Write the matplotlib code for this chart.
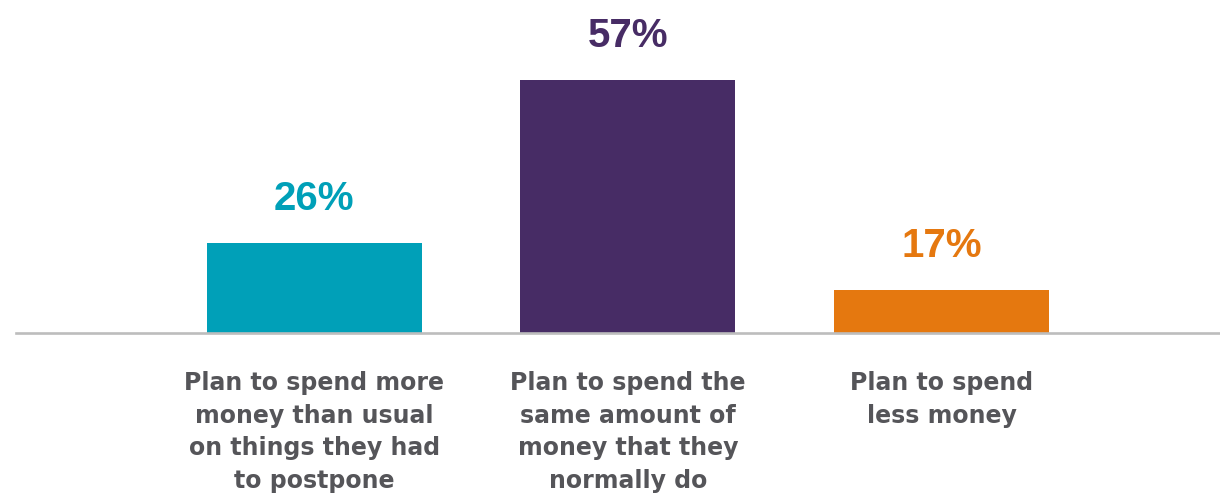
import matplotlib.pyplot as plt

# data
categories = [
    "Plan to spend more\nmoney than usual\non things they had\nto postpone",
    "Plan to spend the\nsame amount of\nmoney that they\nnormally do",
    "Plan to spend\nless money",
]
values = [26, 57, 17]
colors = ["#00a0b8", "#472c65", "#e5780f"]

fig = plt.figure(figsize=(12.2, 5.01), dpi=100)
ax = fig.add_axes([16 / 1220, 1 - 333 / 501, 1 - 16 / 1220, 333 / 501])

x = list(range(len(values)))
ax.bar(x, values, width=0.685, color=colors)

# axis doesn't start at zero in the original
ax.set_ylim(8.9, 72.2)
ax.set_xlim(-0.95, 2.887)

for s in ["top", "right", "left"]:
    ax.spines[s].set_visible(False)
ax.spines["bottom"].set_color("#bdbdbd")
ax.spines["bottom"].set_linewidth(1.9)
ax.set_yticks([])
ax.set_xticks([])

# value labels
for xi, v, c in zip(x, values, colors):
    ax.annotate(f"{v}%", (xi, v), xytext=(0, 24), textcoords="offset points",
                ha="center", va="baseline", fontsize=29, fontweight="bold",
                color=c, family="Liberation Sans")

# category labels
for xi, lab in zip(x, categories):
    ax.text(xi, -0.114, lab, transform=ax.get_xaxis_transform(),
            ha="center", va="top", fontsize=17, fontweight="bold",
            color="#555559", family="DejaVu Sans", linespacing=1.45)

fig.savefig("out.png", dpi=100)
